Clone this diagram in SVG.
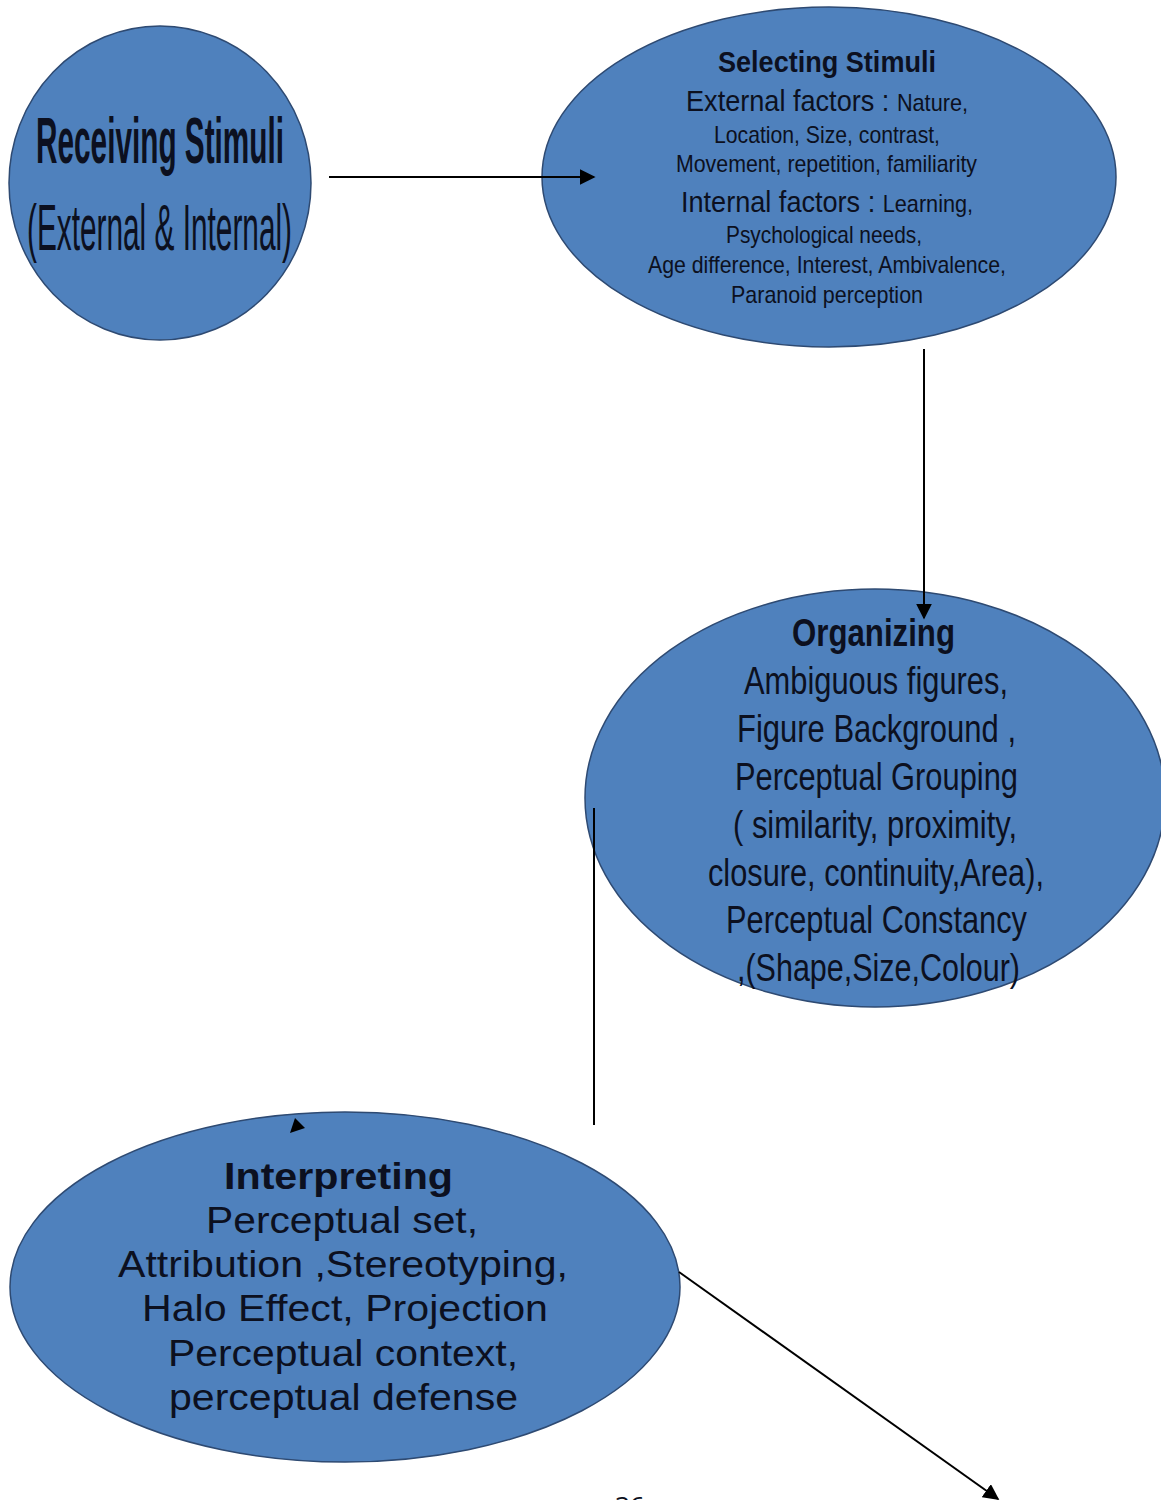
<svg xmlns="http://www.w3.org/2000/svg" width="1161" height="1500" viewBox="0 0 1161 1500">
<style>
.node{fill:#4F81BD;stroke:#2E4A72;stroke-width:1.5}
text{font-family:"Liberation Sans",Arial,sans-serif;fill:#0c1020;text-anchor:start}
.b{font-weight:bold}
.conn{stroke:#000;stroke-width:2;fill:none}
</style>
<defs>
<marker id="ahb" viewBox="0 0 10 10" refX="9" refY="5" markerWidth="16" markerHeight="16" markerUnits="userSpaceOnUse" orient="auto">
<path d="M0,0 L10,5 L0,10 z" fill="#000"/>
</marker>
</defs>
<rect width="1161" height="1500" fill="#fff"/>
<g id="receiving">
<ellipse class="node" cx="160" cy="183" rx="151" ry="157"/>
<text class="b" x="36" y="163" font-size="64" textLength="248" lengthAdjust="spacingAndGlyphs">Receiving Stimuli</text>
<text x="27" y="250" font-size="64" textLength="265" lengthAdjust="spacingAndGlyphs">(External &amp; Internal)</text>
</g>
<g id="selecting">
<ellipse class="node" cx="829" cy="177" rx="287" ry="170"/>
<text class="b" x="718" y="72" font-size="30" textLength="218" lengthAdjust="spacingAndGlyphs">Selecting Stimuli</text>
<text x="0" y="0" font-size="30" transform="translate(686,111) scale(0.904,1)">External factors : <tspan font-size="24">Nature,</tspan></text>
<text x="714" y="143" font-size="24" textLength="226" lengthAdjust="spacingAndGlyphs">Location, Size, contrast,</text>
<text x="676" y="172" font-size="24" textLength="301" lengthAdjust="spacingAndGlyphs">Movement, repetition, familiarity</text>
<text x="0" y="0" font-size="30" transform="translate(681,212) scale(0.903,1)">Internal factors : <tspan font-size="24">Learning,</tspan></text>
<text x="726" y="243" font-size="24" textLength="196" lengthAdjust="spacingAndGlyphs">Psychological needs,</text>
<text x="648" y="273" font-size="24" textLength="358" lengthAdjust="spacingAndGlyphs">Age difference, Interest, Ambivalence,</text>
<text x="731" y="303" font-size="24" textLength="192" lengthAdjust="spacingAndGlyphs">Paranoid perception</text>
</g>
<g id="organizing">
<ellipse class="node" cx="875" cy="798" rx="290" ry="209"/>
<text class="b" x="792" y="646" font-size="38" textLength="163" lengthAdjust="spacingAndGlyphs">Organizing</text>
<text x="744" y="694" font-size="38" textLength="264" lengthAdjust="spacingAndGlyphs">Ambiguous figures,</text>
<text x="737" y="742" font-size="38" textLength="279" lengthAdjust="spacingAndGlyphs">Figure Background ,</text>
<text x="735" y="790" font-size="38" textLength="283" lengthAdjust="spacingAndGlyphs">Perceptual Grouping</text>
<text x="733" y="838" font-size="38" textLength="284" lengthAdjust="spacingAndGlyphs">( similarity, proximity,</text>
<text x="708" y="886" font-size="38" textLength="336" lengthAdjust="spacingAndGlyphs">closure, continuity,Area),</text>
<text x="726" y="933" font-size="38" textLength="301" lengthAdjust="spacingAndGlyphs">Perceptual Constancy</text>
<text x="737" y="981" font-size="38" textLength="283" lengthAdjust="spacingAndGlyphs">,(Shape,Size,Colour)</text>
</g>
<g id="interpreting">
<ellipse class="node" cx="345" cy="1287" rx="335" ry="175"/>
<text class="b" x="224" y="1189" font-size="36" textLength="229" lengthAdjust="spacingAndGlyphs">Interpreting</text>
<text x="206" y="1233" font-size="36" textLength="272" lengthAdjust="spacingAndGlyphs">Perceptual set,</text>
<text x="118" y="1277" font-size="36" textLength="450" lengthAdjust="spacingAndGlyphs">Attribution ,Stereotyping,</text>
<text x="142" y="1321" font-size="36" textLength="406" lengthAdjust="spacingAndGlyphs">Halo Effect, Projection</text>
<text x="168" y="1366" font-size="36" textLength="350" lengthAdjust="spacingAndGlyphs">Perceptual context,</text>
<text x="169" y="1410" font-size="36" textLength="349" lengthAdjust="spacingAndGlyphs">perceptual defense</text>
</g>
<g id="connectors">
<line class="conn" x1="329" y1="177" x2="594" y2="177" marker-end="url(#ahb)"/>
<line class="conn" x1="924" y1="349" x2="924" y2="618" marker-end="url(#ahb)"/>
<line class="conn" x1="594" y1="808" x2="594" y2="1125"/>
<path d="M290,1133 L295,1118 L305,1128 z" fill="#000"/>
<line class="conn" x1="679" y1="1272" x2="998" y2="1499" marker-end="url(#ahb)"/>
</g>
<text x="615" y="1515" font-size="26" fill="#000" style="font-family:'Open Sans',sans-serif">36</text>
</svg>
